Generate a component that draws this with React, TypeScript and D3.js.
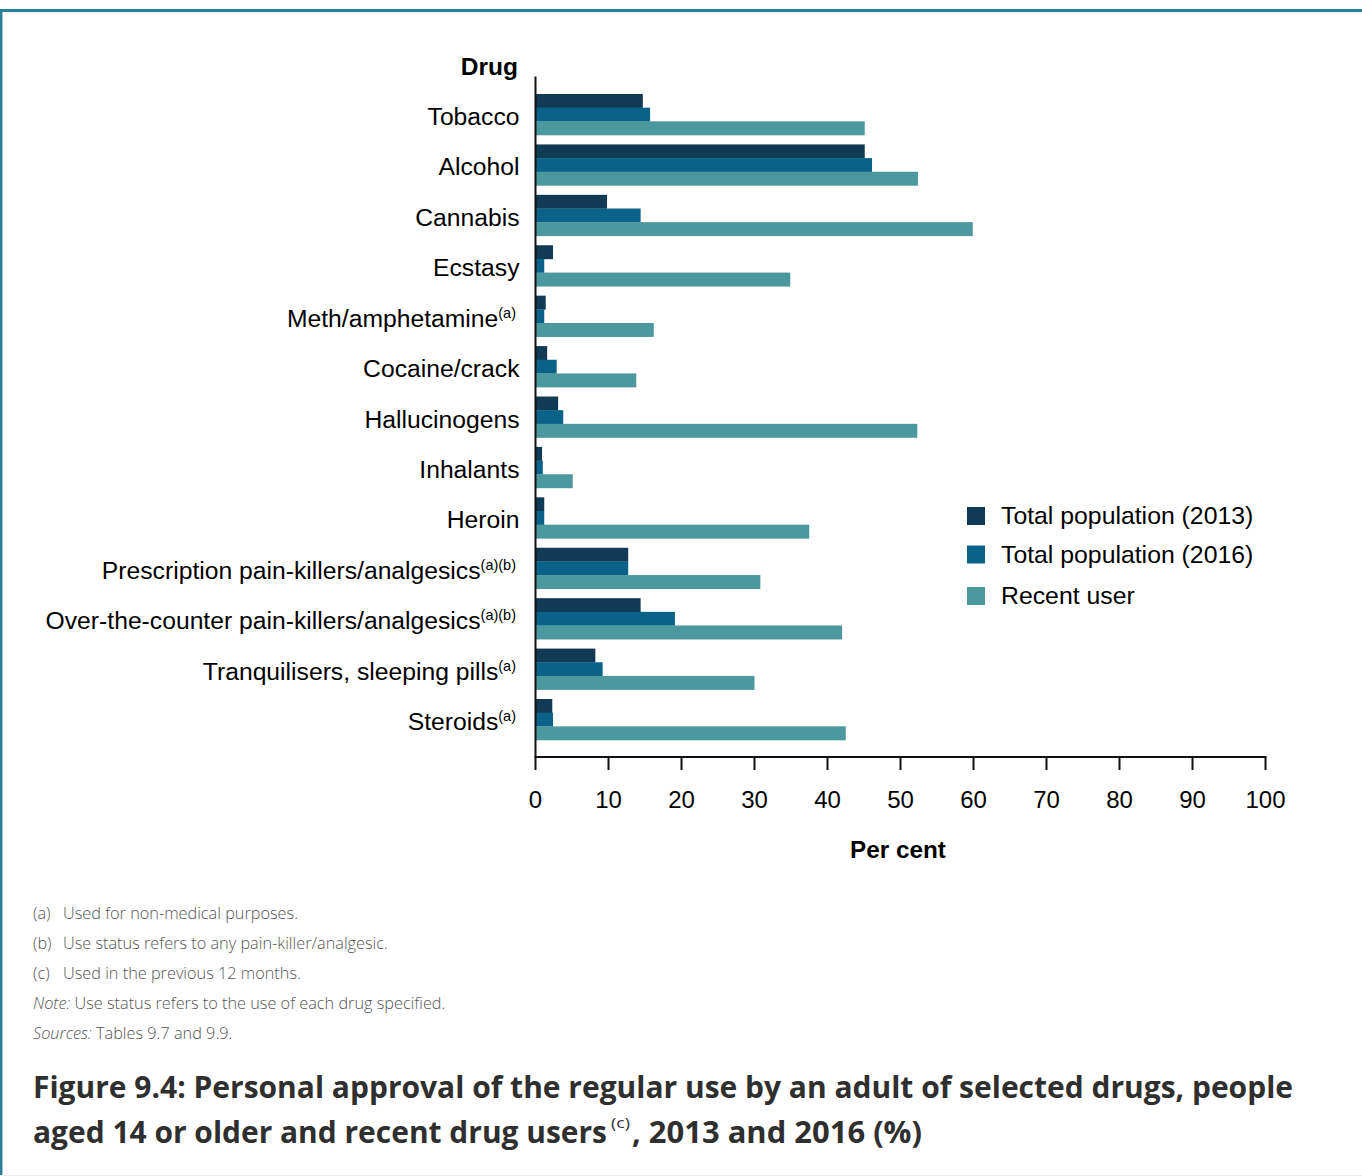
import React from "react";
import * as d3 from "d3";

const categories = [
  "Tobacco",
  "Alcohol",
  "Cannabis",
  "Ecstasy",
  "Meth/amphetamine",
  "Cocaine/crack",
  "Hallucinogens",
  "Inhalants",
  "Heroin",
  "Prescription pain-killers/analgesics",
  "Over-the-counter pain-killers/analgesics",
  "Tranquilisers, sleeping pills",
  "Steroids",
];
const categoryNotes = ["", "", "", "", "(a)", "", "", "", "", "(a)(b)", "(a)(b)", "(a)", "(a)"];

const seriesNames = ["Total population (2013)", "Total population (2016)", "Recent user"];
const total2013 = [14.7, 45.1, 9.8, 2.4, 1.4, 1.6, 3.1, 0.9, 1.2, 12.7, 14.4, 8.2, 2.3];
const total2016 = [15.7, 46.1, 14.4, 1.2, 1.2, 2.9, 3.8, 1.0, 1.2, 12.7, 19.1, 9.2, 2.4];
const recentUser = [45.1, 52.4, 59.9, 34.9, 16.2, 13.8, 52.3, 5.1, 37.5, 30.8, 42.0, 30.0, 42.5];
const seriesValues = [total2013, total2016, recentUser];
const seriesColors = ["#113a55", "#0a6289", "#4b989e"];

const xTicks = [0, 10, 20, 30, 40, 50, 60, 70, 80, 90, 100];

const footnotes = [
  { pre: "(a)", text: "Used for non-medical purposes." },
  { pre: "(b)", text: "Use status refers to any pain-killer/analgesic." },
  { pre: "(c)", text: "Used in the previous 12 months." },
];

const W = 1362;
const H = 1176;

export default function App() {
  const x = d3.scaleLinear().domain([0, 100]).range([535.5, 1265.5]);
  const y = d3.scaleBand<string>().domain(categories).range([94, 740]).paddingInner(0.187).paddingOuter(0);
  const ySub = d3.scaleBand<number>().domain([0, 1, 2]).range([0, y.bandwidth()]);
  const labelFont = "'Liberation Sans', Arial, sans-serif";
  const noteFont = "'Open Sans', sans-serif";

  return (
    <div style={{ position: "absolute", left: 0, top: 0 }}>
      <svg width={W} height={H} style={{ display: "block", background: "#fff" }}>
        {/* frame */}
        <rect x={0} y={0} width={W} height={H} fill="#fff" />
        <line x1={0} x2={W} y1={10.5} y2={10.5} stroke="#2a7f9a" strokeWidth={3} />
        <line x1={1.2} x2={1.2} y1={9} y2={H} stroke="#2a7f9a" strokeWidth={2.5} />
        <line x1={0} x2={W} y1={1175.5} y2={1175.5} stroke="#eeeeee" strokeWidth={1} />

        {/* bars */}
        {categories.map((c, i) => (
          <g key={c}>
            {seriesValues.map((vals, s) => (
              <rect
                key={s}
                x={x(0)}
                y={(y(c) as number) + (ySub(s) as number)}
                width={x(vals[i]) - x(0)}
                height={ySub.bandwidth() + 0.3}
                fill={seriesColors[s]}
              />
            ))}
          </g>
        ))}

        {/* y axis */}
        <line x1={x(0)} x2={x(0)} y1={76.5} y2={757} stroke="#111" strokeWidth={2} />
        <text x={518} y={75} textAnchor="end" fontFamily={labelFont} fontWeight="bold" fontSize={24.5} fill="#000">
          Drug
        </text>
        {categories.map((c, i) => (
          <text
            key={c}
            x={categoryNotes[i] ? 516 : 519.5}
            y={(y(c) as number) + y.bandwidth() / 2 + 10.5}
            textAnchor="end"
            fontFamily={labelFont}
            fontSize={24.7}
            fill="#000"
          >
            {c}
            {categoryNotes[i] ? (
              <tspan fontSize={14.5} dy={-9}>
                {categoryNotes[i]}
              </tspan>
            ) : null}
          </text>
        ))}

        {/* x axis */}
        <line x1={x(0) - 1} x2={x(100) + 1} y1={757} y2={757} stroke="#111" strokeWidth={2} />
        {xTicks.map((t) => (
          <g key={t}>
            <line x1={x(t)} x2={x(t)} y1={757} y2={770} stroke="#111" strokeWidth={2} />
            <text x={x(t)} y={808} textAnchor="middle" fontFamily={labelFont} fontSize={24} fill="#000">
              {t}
            </text>
          </g>
        ))}
        <text x={898} y={858} textAnchor="middle" fontFamily={labelFont} fontWeight="bold" fontSize={24.3} fill="#000">
          Per cent
        </text>

        {/* legend */}
        {seriesNames.map((n, s) => {
          const ly = [507, 545.5, 587][s];
          return (
            <g key={n}>
              <rect x={967} y={ly} width={18} height={18} fill={seriesColors[s]} />
              <text x={1001} y={ly + 17} fontFamily={labelFont} fontSize={24.8} fill="#000">
                {n}
              </text>
            </g>
          );
        })}

        {/* footnotes */}
        {footnotes.map((f, i) => (
          <g key={f.pre}>
            <text x={33} y={919 + i * 30} fontFamily={noteFont} fontWeight={300} fontSize={16.3} fill="#555">
              {f.pre}
            </text>
            <text x={63} y={919 + i * 30} fontFamily={noteFont} fontWeight={300} fontSize={16.3} fill="#555">
              {f.text}
            </text>
          </g>
        ))}
        <text x={33} y={1009} fontFamily={noteFont} fontWeight={300} fontSize={16.3} fill="#555">
          <tspan fontStyle="italic">Note:</tspan>
          <tspan> Use status refers to the use of each drug specified.</tspan>
        </text>
        <text x={33} y={1039} fontFamily={noteFont} fontWeight={300} fontSize={16.3} fill="#555">
          <tspan fontStyle="italic">Sources:</tspan>
          <tspan> Tables 9.7 and 9.9.</tspan>
        </text>

        {/* title */}
        <text
          x={33}
          y={1098}
          fontFamily={noteFont}
          fontWeight={700}
          fontSize={31}
          fill="#2f2f2f"
          textLength={1260}
          lengthAdjust="spacingAndGlyphs"
        >
          Figure 9.4: Personal approval of the regular use by an adult of selected drugs, people
        </text>
        <text x={33} y={1143} fontFamily={noteFont} fontWeight={700} fontSize={31} fill="#2f2f2f">
          <tspan x={33} y={1143} textLength={574} lengthAdjust="spacingAndGlyphs">
            aged 14 or older and recent drug users
          </tspan>
          <tspan x={611} y={1128} fontSize={15} fontWeight={400} textLength={19} lengthAdjust="spacingAndGlyphs">
            (c)
          </tspan>
          <tspan x={632} y={1143} textLength={290} lengthAdjust="spacingAndGlyphs">
            , 2013 and 2016 (%)
          </tspan>
        </text>
      </svg>
    </div>
  );
}
